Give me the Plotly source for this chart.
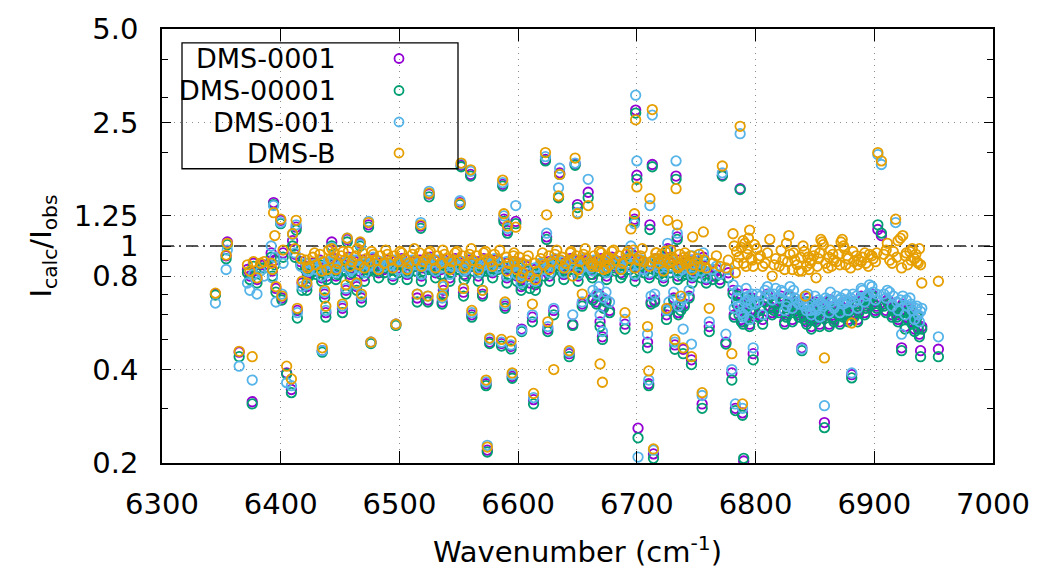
import math
import plotly.graph_objects as go

# ---------------- data ----------------
series_names = ["DMS-0001", "DMS-00001", "DMS-001", "DMS-B"]
series_colors = ["#9400d3", "#009e73", "#56b4e9", "#e69f00"]

x_tick_vals = [6300, 6400, 6500, 6600, 6700, 6800, 6900, 7000]
y_tick_vals = [0.2, 0.4, 0.8, 1, 1.25, 2.5, 5.0]
y_tick_text = ["0.2", "0.4", "0.8", "1", "1.25", "2.5", "5.0"]
y_minor_vals = [0.3, 0.5, 0.6, 0.7, 0.9, 2, 3, 4]

wn_left = [6345, 6354, 6355, 6365, 6372, 6374, 6376, 6377, 6380, 6383,
           6386, 6392, 6393, 6394, 6395, 6396, 6400, 6401, 6402, 6405,
           6409, 6410, 6412, 6413, 6414, 6417, 6418]
p_left = [.70, .93, 1.03, .455, .84, .80, .315, .88, .78, .87,
          .87, .95, .83, 1.38, .90, .73, 1.21, .68, .95, .39,
          .345, 1.04, .94, 1.15, .62, .89, .76]
g_left = [.695, .91, 1.01, .44, .82, .78, .31, .86, .76, .85,
          .85, .92, .80, 1.36, .87, .71, 1.18, .67, .92, .387,
          .337, 1.0, .92, 1.125, .586, .87, .72]
b_left = [.655, .84, .97, .41, .76, .72, .37, .81, .70, .83,
          .80, 1.0, .79, 1.35, .92, .66, 1.19, .70, .88, .363,
          .355, 1.09, .95, 1.17, .61, .86, .74]
o_left = [.705, .935, 1.02, .458, .87, .83, .44, .89, .79, .88,
          .89, .88, .84, 1.28, 1.08, .74, 1.22, .69, .97, .41,
          .373, 1.095, .98, 1.21, .63, .91, .77]

wn_mid = [6421, 6422, 6424, 6427, 6430, 6433, 6435, 6436, 6437, 6438,
          6439, 6442, 6443, 6445, 6448, 6451, 6452, 6454, 6455, 6456,
          6457, 6460, 6463, 6464, 6466, 6467, 6468, 6469, 6472, 6474,
          6475, 6476, 6478, 6481, 6484, 6487, 6490, 6493, 6496, 6497,
          6499, 6502, 6505, 6508, 6511, 6514, 6515, 6517, 6518, 6520,
          6523, 6524, 6525, 6526, 6529, 6532, 6535, 6536, 6537, 6538,
          6541, 6544, 6547, 6550, 6551, 6552, 6553, 6554, 6556, 6559,
          6560, 6561, 6562, 6565, 6568, 6570, 6571, 6573, 6574, 6575,
          6576, 6577, 6580, 6583, 6586, 6587, 6588, 6589, 6590, 6591,
          6592, 6594, 6595, 6596, 6597, 6598, 6599, 6601, 6603, 6604,
          6607, 6610, 6612, 6613, 6614, 6616, 6619, 6622, 6623, 6624,
          6625, 6626, 6628, 6630, 6631, 6634, 6635, 6636, 6637, 6640,
          6643, 6644, 6646, 6647, 6648, 6649, 6650, 6652, 6654, 6655,
          6658, 6659, 6661, 6663, 6664, 6666, 6667, 6668, 6669, 6670,
          6671, 6672, 6673, 6674, 6676, 6677, 6679, 6682, 6685, 6688,
          6690, 6691, 6694, 6695, 6697, 6698, 6699, 6700, 6701, 6702,
          6703, 6706, 6709, 6710, 6711, 6712, 6713, 6714, 6715, 6716,
          6718, 6719, 6721, 6723, 6724, 6725, 6726, 6727, 6728, 6730,
          6731, 6732, 6733, 6734, 6735, 6736, 6737, 6738, 6739, 6740,
          6741, 6742, 6744, 6745, 6746, 6747, 6748, 6751, 6754, 6755,
          6756, 6757, 6761, 6764, 6767, 6770, 6772, 6775, 6777, 6780,
          6781, 6783, 6784, 6786, 6787, 6788, 6789, 6790, 6791, 6792,
          6793, 6794, 6795, 6796, 6797, 6798]
p_mid = [.86, .74, .82, .88, .83, .90, .46, .85, .70, .61,
         .80, .87, 1.03, .91, .84, .88, .63, .86, .72, 1.05,
         .92, .85, .89, .74, .83, 1.02, .68, .90, .87, 1.17,
         .85, .49, .91, .86, .88, .84, .90, .86, .89, .56,
         .85, .91, .87, .84, .89, .86, .68, .90, 1.16, .85,
         .88, .67, 1.47, .92, .86, .89, .84, .66, .72, .90,
         .87, .85, .91, .86, 1.38, 1.82, .88, .71, .83, .90,
         1.70, .60, .86, .89, .84, .70, .91, .36, .22, .87,
         .49, .85, .90, .86, .485, 1.58, 1.22, .64, .88, 1.12,
         .84, .475, .38, .89, .85, 1.20, .80, .88, .54, .78,
         .86, .76, .59, .32, .84, .79, .87, .83, 1.90, 1.07,
         .54, .89, .85, .62, .90, 1.44, 1.72, .86, .88, .84,
         .45, .91, .56, .86, 1.84, .89, 1.36, .85, .65, .90,
         .87, 1.49, .84, .68, .89, .66, .86, .70, .57, .91,
         .51, .64, .85, .67, .88, .62, .92, .86, .89, .84,
         .56, .90, .87, .95, .93, 1.22, 2.74, 1.69, .259, .86,
         .89, .85, .49, .36, 1.17, .66, 1.83, .214, .67, .91,
         .87, .84, .90, .86, .92, .60, .98, .63, .85, .88,
         .68, .48, 1.68, 1.07, .61, .90, .64, .83, .465, .65,
         .86, .84, .69, .89, .43, .90, .83, .87, .82, .31,
         .92, .86, .55, .80, .84, .78, 1.69, .49, .82, .39,
         .72, .30, .66, .62, 1.53, .58, .29, .203, .64, .70,
         .60, .66, .56, .62, .68, .45]
g_mid = [.84, .72, .80, .85, .81, .87, .455, .82, .68, .59,
         .78, .85, 1.0, .88, .81, .86, .61, .83, .70, 1.03,
         .89, .82, .86, .72, .81, 1.0, .66, .87, .84, 1.15,
         .83, .485, .88, .83, .86, .82, .87, .84, .86, .555,
         .82, .88, .84, .82, .86, .83, .66, .87, 1.14, .83,
         .85, .66, 1.44, .89, .84, .86, .81, .65, .70, .87,
         .85, .82, .88, .84, 1.36, 1.80, .85, .69, .80, .87,
         1.68, .59, .83, .86, .82, .69, .88, .355, .217, .84,
         .485, .83, .87, .84, .476, 1.56, 1.20, .63, .85, 1.10,
         .81, .466, .375, .86, .82, 1.18, .77, .85, .53, .75,
         .83, .73, .57, .31, .81, .76, .84, .80, 1.88, 1.05,
         .53, .86, .82, .60, .87, 1.43, 1.70, .83, .85, .82,
         .44, .88, .555, .84, 1.82, .86, 1.33, .82, .64, .87,
         .84, 1.43, .81, .67, .86, .65, .83, .69, .55, .88,
         .50, .63, .82, .66, .85, .61, .89, .83, .86, .81,
         .54, .87, .84, .93, .90, 1.20, 2.68, 1.64, .241, .83,
         .86, .82, .47, .355, 1.13, .65, 1.80, .207, .66, .88,
         .84, .81, .87, .83, .89, .58, .96, .62, .82, .85,
         .67, .465, 1.64, 1.05, .60, .87, .62, .80, .45, .64,
         .83, .81, .68, .86, .415, .88, .80, .84, .79, .30,
         .90, .83, .53, .78, .80, .76, 1.68, .483, .79, .37,
         .70, .295, .65, .60, 1.52, .57, .285, .207, .63, .68,
         .59, .64, .55, .61, .67, .43]
b_mid = [.88, .75, .83, .87, .84, .89, .46, .86, .71, .62,
         .82, .88, .99, .90, .85, .87, .64, .88, .73, 1.06,
         .91, .84, .90, .75, .85, 1.01, .69, .89, .88, 1.20,
         .86, .49, .92, .85, .89, .86, .88, .87, .90, .56,
         .84, .90, .88, .85, .90, .87, .70, .89, 1.19, .86,
         .89, .69, 1.50, .91, .85, .90, .85, .68, .74, .89,
         .88, .86, .90, .87, 1.40, 1.84, .89, .73, .84, .91,
         1.74, .61, .87, .88, .85, .72, .90, .365, .228, .88,
         .50, .86, .91, .85, .49, 1.60, 1.25, .65, .89, 1.14,
         .86, .48, .385, .88, .86, 1.35, .81, .87, .535, .80,
         .87, .78, .60, .325, .85, .80, .88, .84, 1.94, 1.10,
         .55, .88, .86, .63, .91, 1.54, 1.78, .87, .89, .85,
         .455, .90, .60, .88, 1.85, .90, 1.28, .84, .66, .91,
         .86, 1.64, .85, .72, .90, .70, .87, .74, .60, .89,
         .53, .68, .86, .71, .89, .66, .91, .87, .88, .85,
         .58, .91, .86, 1.0, .92, 1.18, 3.06, 1.88, .209, .87,
         .90, .84, .52, .37, 1.35, .69, 2.64, .22, .70, .90,
         .88, .85, .91, .87, .90, .62, 1.02, .66, .86, .89,
         .71, .49, 1.88, 1.10, .64, .88, .66, .84, .54, .68,
         .87, .85, .72, .90, .483, .93, .82, .88, .83, .33,
         .95, .87, .57, .84, .86, .81, 1.72, .52, .84, .40,
         .75, .31, .68, .64, 2.30, .61, .30, .60, .66, .73,
         .63, .69, .58, .65, .70, .47]
o_mid = [.90, .76, .86, .92, .87, .94, .47, .89, .72, .64,
         .84, .91, .98, .95, .88, .93, .65, .90, .75, 1.06,
         .96, .89, .93, .76, .87, 1.03, .70, .95, .91, 1.19,
         .89, .49, .94, .90, .93, .88, .94, .90, .93, .56,
         .89, .95, .91, .88, .94, .90, .70, .95, 1.17, .89,
         .92, .69, 1.48, .96, .90, .93, .88, .69, .75, .94,
         .91, .89, .95, .90, 1.37, 1.85, .93, .73, .87, .94,
         1.76, .62, .90, .93, .88, .72, .95, .37, .225, .91,
         .505, .89, .94, .90, .50, 1.63, 1.27, .66, .92, 1.16,
         .88, .494, .39, .93, .89, 1.15, .84, .92, .88, .82,
         .90, .80, .65, .335, .88, .83, .91, .87, 2.0, 1.26,
         .57, .93, .89, .40, .94, 1.45, 1.70, .90, .92, .88,
         .46, .95, .80, .91, 1.92, .93, 1.27, .89, .70, .94,
         .91, 1.35, .88, .88, .93, .86, .90, .90, .417, .95,
         .364, .84, .89, .92, .92, .87, .96, .90, .93, .88,
         .61, .94, .91, 1.135, .97, 1.27, 2.55, 1.55, .90, .90,
         .93, .89, .55, .396, 1.42, .89, 2.75, .222, .91, .95,
         .91, .88, .94, .90, .96, .63, 1.21, .88, .89, .92,
         .90, .50, 1.53, 1.17, .86, .94, .69, .87, .47, .92,
         .90, .88, .89, .93, .44, 1.07, .87, .91, .86, .337,
         1.11, .90, .63, .88, .93, .86, 1.81, .85, .90, .45,
         1.095, .82, .96, .92, 2.43, .99, .31, .88, 1.02, .86,
         .94, 1.06, 1.125, .91, .90, .86]

wn_right = [6801, 6804, 6806, 6808, 6812, 6814, 6817, 6820, 6823, 6826,
            6828, 6829, 6831, 6833, 6835, 6838, 6839, 6840, 6841, 6842,
            6843, 6845, 6847, 6849, 6851, 6853, 6855, 6856, 6857, 6858,
            6859, 6862, 6864, 6866, 6870, 6872, 6873, 6874, 6876, 6878,
            6880, 6881, 6883, 6885, 6887, 6890, 6893, 6896, 6899, 6902,
            6903, 6906, 6908, 6910, 6913, 6915, 6918, 6920, 6922, 6923,
            6924, 6926, 6928, 6930, 6932, 6934, 6936, 6938, 6939, 6940,
            6954]
p_right = [.66, .63, .58, .68, .64, .61, .66, .62, .67, .60,
           .65, .69, .58, .64, .62, .63, .47, .61, .59, .66,
           .57, .62, .55, .60, .58, .64, .63, .61, .60, .27,
           .65, .56, .62, .58, .61, .64, .62, .60, .66, .58,
           .63, .385, .60, .65, .62, .67, .64, .68, .66, .64,
           1.13, 1.08, .65, .62, .66, .60, .63, .58, .62, .47,
           .65, .55, .59, .63, .57, .54, .60, .52, .46, .55,
           .465]
g_right = [.65, .62, .56, .66, .63, .60, .65, .61, .66, .59,
           .64, .68, .57, .63, .61, .62, .46, .60, .58, .65,
           .56, .61, .54, .59, .57, .63, .62, .60, .59, .26,
           .64, .55, .61, .57, .60, .63, .61, .59, .65, .57,
           .62, .376, .59, .64, .61, .66, .63, .67, .65, .63,
           1.17, 1.10, .64, .61, .65, .59, .62, .57, .61, .46,
           .64, .54, .58, .62, .56, .53, .59, .51, .44, .54,
           .44]
b_right = [.70, .69, .60, .72, .70, .67, .73, .68, .71, .64,
           .70, .74, .63, .68, .66, .67, .466, .65, .64, .69,
           .62, .64, .60, .63, .62, .67, .66, .65, .64, .306,
           .68, .61, .66, .63, .67, .68, .66, .65, .70, .62,
           .68, .39, .66, .69, .67, .72, .69, .75, .71, .70,
           1.97, 1.83, .70, .68, .71, .64, 1.19, .62, .67, .52,
           .69, .60, .64, .68, .62, .58, .64, .57, .615, .63,
           .51]
o_right = [.98, .93, .86, .88, 1.05, .80, .91, .86, .90, 1.02,
           1.08, .94, .84, .90, .87, .92, .83, 1.0, .96, .69,
           .86, .84, .90, .93, .79, .91, 1.05, 1.03, 1.01, .436,
           .88, .92, .86, .90, .94, 1.03, 1.05, 1.0, .87, .91,
           .85, .565, .89, .93, .90, .92, .88, .94, .91, .95,
           2.0, 1.88, .94, .97, .90, .88, 1.22, 1.04, 1.06, .85,
           1.08, .93, .87, .96, .98, .91, .89, .98, .87, .76,
           .77]

# additional lines inside the dense bands
wn_fill = [6422.5, 6428.5, 6434.5, 6440.5, 6446.5, 6452.5, 6458.5, 6464.5, 6470.5, 6476.5,
           6482.5, 6488.5, 6494.5, 6500.5, 6506.5, 6512.5, 6518.5, 6524.5, 6530.5, 6536.5,
           6542.5, 6548.5, 6554.5, 6560.5, 6566.5, 6572.5, 6578.5, 6584.5, 6590.5, 6596.5,
           6602.5, 6608.5, 6614.5, 6620.5, 6626.5, 6632.5, 6638.5, 6644.5, 6650.5, 6656.5,
           6662.5, 6668.5, 6674.5, 6680.5, 6686.5, 6692.5, 6698.5, 6704.5, 6710.5, 6716.5,
           6722.5, 6728.5, 6734.5, 6740.5, 6746.5, 6752.5, 6758.5,
           6782, 6785, 6789.5, 6793.5, 6799,
           6802.5, 6810, 6815.5, 6821.5, 6824.5, 6827, 6832, 6836.5, 6844, 6846,
           6850, 6852, 6854, 6861, 6863, 6865, 6868, 6871, 6875, 6877,
           6882, 6886, 6889, 6892, 6895, 6898, 6901, 6911, 6916, 6919,
           6927, 6931, 6935, 6937]
p_fill = [.81, .86, .79, .88, .80, .87, .81, .89, .80, .86,
          .82, .88, .80, .87, .81, .89, .80, .86, .82, .88,
          .79, .87, .81, .88, .80, .86, .82, .89, .79, .86,
          .74, .83, .75, .86, .80, .88, .81, .87, .80, .89,
          .81, .87, .80, .88, .82, .87, .80, .89, .81, .86,
          .79, .88, .80, .86, .79, .85, .78,
          .60, .70, .57, .65, .62,
          .60, .70, .63, .69, .57, .62, .66, .60, .68, .59,
          .66, .61, .56, .63, .67, .60, .64, .57, .63, .61,
          .66, .58, .69, .61, .66, .70, .62, .67, .63, .60,
          .62, .60, .58, .55]
g_fill = [.79, .83, .77, .85, .78, .84, .79, .86, .77, .84,
          .79, .85, .78, .84, .78, .86, .77, .84, .79, .85,
          .77, .84, .78, .86, .77, .83, .79, .86, .76, .83,
          .72, .80, .72, .84, .77, .85, .78, .84, .77, .86,
          .79, .84, .78, .85, .79, .84, .77, .86, .79, .83,
          .77, .85, .78, .83, .76, .82, .76,
          .59, .69, .56, .64, .61,
          .59, .68, .62, .67, .56, .61, .65, .59, .66, .58,
          .65, .60, .55, .62, .66, .59, .63, .56, .62, .60,
          .65, .57, .68, .60, .65, .69, .61, .66, .62, .59,
          .61, .59, .57, .54]
b_fill = [.83, .87, .80, .89, .82, .86, .83, .90, .82, .87,
          .84, .88, .81, .89, .82, .88, .81, .87, .83, .89,
          .81, .86, .83, .89, .82, .87, .83, .88, .80, .87,
          .76, .84, .77, .87, .82, .89, .82, .88, .81, .88,
          .83, .86, .82, .89, .84, .88, .81, .90, .82, .87,
          .80, .89, .82, .87, .80, .86, .79,
          .63, .72, .59, .67, .65,
          .66, .74, .70, .72, .62, .66, .72, .65, .70, .62,
          .69, .64, .59, .67, .71, .64, .69, .61, .67, .66,
          .70, .63, .73, .66, .70, .74, .67, .72, .69, .66,
          .67, .65, .63, .60]
o_fill = [.85, .95, .83, .97, .84, .96, .86, .98, .85, .96,
          .84, .97, .85, .96, .84, .98, .86, .95, .85, .97,
          .84, .96, .85, .98, .84, .96, .86, .97, .83, .95,
          .79, .93, .78, .95, .84, .97, .85, .96, .84, .98,
          .86, .96, .85, .97, .84, .96, .85, .98, .86, .95,
          .83, .97, .85, .95, .84, .94, .85,
          1.0, .88, 1.04, .98, 1.01,
          .91, .95, .87, .97, .84, .89, .95, .83, .92, .88,
          .97, .86, .95, .85, .97, .94, .89, .87, .98, .93,
          .96, .87, .89, .95, .86, .93, .89, 1.02, .96, .92,
          .95, .90, .94, .88]

wavenumber = wn_left + wn_mid + wn_right + wn_fill
ratio_0001 = p_left + p_mid + p_right + p_fill
ratio_00001 = g_left + g_mid + g_right + g_fill
ratio_001 = b_left + b_mid + b_right + b_fill
ratio_B = o_left + o_mid + o_right + o_fill
series_values = [ratio_0001, ratio_00001, ratio_001, ratio_B]
for s in series_values:
    assert len(s) == len(wavenumber), (len(s), len(wavenumber))

# ---------------- figure ----------------
FONT = "DejaVu Sans"
W, H = 1044, 575
ML, MR, MT, MB = 162, 51, 24, 110
PW, PH = W - ML - MR, H - MT - MB

fig = go.Figure()

# reference line at ratio = 1
fig.add_trace(go.Scatter(x=[x_tick_vals[0], x_tick_vals[-1]], y=[1, 1], mode="lines",
                         line=dict(color="#202020", width=1.3, dash="12px,5px,2px,5px"),
                         hoverinfo="skip", showlegend=False))

for name, vals, col in zip(series_names, series_values, series_colors):
    fig.add_trace(go.Scatter(
        x=wavenumber, y=vals, mode="markers", name=name, showlegend=False,
        marker=dict(symbol="circle-open", size=9.5, color=col, line=dict(width=1.8, color=col)),
    ))

axis_common = dict(
    showline=True, linecolor="black", linewidth=1.5, mirror="ticks",
    ticks="inside", tickcolor="black", tickwidth=1.3,
    showgrid=True, gridcolor="#8c8c8c", gridwidth=1, griddash="1px,5px",
    zeroline=False,
    tickfont=dict(family=FONT, size=29, color="black"),
)

fig.update_xaxes(
    range=[x_tick_vals[0], x_tick_vals[-1]], tickmode="array", tickvals=x_tick_vals,
    ticklen=12, ticklabelstandoff=14,
    title=dict(text="Wavenumber (cm<sup>-1</sup>)", font=dict(family=FONT, size=29, color="black"),
               standoff=22),
    **axis_common,
)
fig.update_yaxes(
    type="log", range=[math.log10(y_tick_vals[0]), math.log10(y_tick_vals[-1])],
    tickmode="array", tickvals=y_tick_vals, ticktext=y_tick_text,
    ticklen=9, ticklabelstandoff=16,
    minor=dict(tickmode="array", tickvals=y_minor_vals, ticks="inside", ticklen=6,
               tickcolor="black", tickwidth=1.2, showgrid=False),
    title=dict(text="I<sub>calc</sub>/I<sub>obs</sub>", font=dict(family=FONT, size=29, color="black"),
               standoff=14),
    **axis_common,
)

# custom legend box (text right-aligned, symbol to the right, as in the reference)
def px_to_paper_x(px):
    return (px - ML) / PW

def px_to_paper_y(py):
    return (H - MB - py) / PH

shapes = [dict(type="rect", xref="paper", yref="paper",
               x0=px_to_paper_x(182), x1=px_to_paper_x(458),
               y0=px_to_paper_y(166), y1=px_to_paper_y(38),
               line=dict(color="black", width=1.3), fillcolor="rgba(0,0,0,0)")]
annotations = []
row_y = [54, 86.5, 118.5, 150]
for name, col, ry in zip(series_names, series_colors, row_y):
    annotations.append(dict(xref="paper", yref="paper", x=px_to_paper_x(338), y=px_to_paper_y(ry),
                            xanchor="right", yanchor="middle", showarrow=False, text=name,
                            font=dict(family=FONT, size=27, color="black")))
    shapes.append(dict(type="circle", xref="paper", yref="paper",
                       xsizemode="pixel", ysizemode="pixel",
                       xanchor=px_to_paper_x(399), yanchor=px_to_paper_y(ry),
                       x0=-4.5, x1=4.5, y0=-4.5, y1=4.5,
                       line=dict(color=col, width=1.8), fillcolor="rgba(0,0,0,0)"))

fig.update_layout(
    width=W, height=H, autosize=False,
    margin=dict(l=ML, r=MR, t=MT, b=MB, pad=0),
    paper_bgcolor="white", plot_bgcolor="white",
    font=dict(family=FONT, color="black"),
    showlegend=False,
    shapes=shapes, annotations=annotations,
)

fig.write_html("out.html")
